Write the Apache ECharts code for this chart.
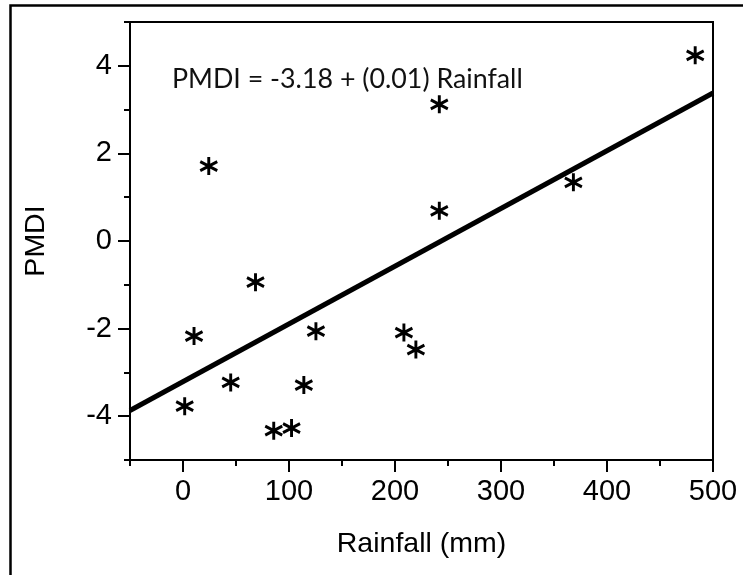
<!DOCTYPE html>
<html>
<head>
<meta charset="utf-8">
<script src="https://cdn.jsdelivr.net/npm/echarts@6/dist/echarts.min.js"></script>
<style>html,body{margin:0;padding:0;background:#fff}#c{width:743px;height:575px}</style>
</head>
<body>
<div id="c"></div>
<script>
// Data
var rainfall = [1.6, 10.4, 24.3, 45, 68.4, 85.6, 102.4, 114, 125.4, 208.4, 219.7, 241.8, 241.8, 368.3, 483.2];
var pmdi     = [-3.77, -2.17, 1.71, -3.23, -0.94, -4.33, -4.27, -3.29, -2.06, -2.09, -2.48, 0.69, 3.12, 1.34, 4.24];
var fitX = [-50, 500];
var fitY = [-3.87, 3.38];
var xMajorTicks = [0, 100, 200, 300, 400, 500];
var xMinorTicks = [-50, 50, 150, 250, 350, 450];
var yMajorTicks = [-4, -2, 0, 2, 4];
var yMinorTicks = [-5, -3, -1, 1, 3, 5];
var equationText = 'PMDI = -3.18 + (0.01) Rainfall';
var xTitle = 'Rainfall (mm)';
var yTitle = 'PMDI';

var points = rainfall.map(function (x, i) { return [x, pmdi[i]]; });
var fitLine = fitX.map(function (x, i) { return [x, fitY[i]]; });

var font = 'Liberation Sans, Arial, sans-serif';
var black = '#000';
var chart = echarts.init(document.getElementById('c'), null, {renderer: 'canvas'});

function axisBase(extra) {
  return Object.assign({
    type: 'value',
    splitLine: {show: false},
    axisLine: {show: true, onZero: false, lineStyle: {color: black, width: 2}},
    axisLabel: {color: black, fontFamily: font, fontSize: 29},
    nameTextStyle: {color: black, fontFamily: font, fontSize: 28.5}
  }, extra);
}

chart.setOption({
  animation: false,
  backgroundColor: '#fff',
  title: {
    text: equationText,
    left: 172, top: 66, padding: 0,
    textStyle: {fontFamily: 'Lato, sans-serif', fontWeight: 'normal', fontSize: 26.8, color: '#111'}
  },
  graphic: [{
    type: 'rect', left: 8, top: 3, silent: true,
    shape: {width: 760, height: 600},
    style: {fill: 'none', stroke: black, lineWidth: 2.5}
  }],
  grid: {left: 130, right: 30, top: 22, bottom: 115, show: true, borderColor: black, borderWidth: 2, backgroundColor: 'transparent'},
  xAxis: [
    axisBase({
      min: -50, max: 500,
      name: xTitle, nameLocation: 'middle', nameGap: 70,
      axisTick: {show: true, length: 12, customValues: xMajorTicks, lineStyle: {color: black, width: 2}},
      axisLabel: {color: black, fontFamily: font, fontSize: 29, margin: 17, customValues: xMajorTicks}
    }),
    axisBase({
      min: -50, max: 500, position: 'bottom',
      axisLine: {show: false, onZero: false},
      axisTick: {show: true, length: 6, customValues: xMinorTicks, lineStyle: {color: black, width: 2}},
      axisLabel: {show: false}
    })
  ],
  yAxis: [
    axisBase({
      min: -5, max: 5,
      name: yTitle, nameLocation: 'middle', nameGap: 79,
      axisTick: {show: true, length: 12, customValues: yMajorTicks, lineStyle: {color: black, width: 2}},
      axisLabel: {color: black, fontFamily: font, fontSize: 29, margin: 18, customValues: yMajorTicks}
    }),
    axisBase({
      min: -5, max: 5, position: 'left',
      axisLine: {show: false, onZero: false},
      axisTick: {show: true, length: 6, customValues: yMinorTicks, lineStyle: {color: black, width: 2}},
      axisLabel: {show: false}
    })
  ],
  series: [
    {
      type: 'line', data: fitLine, xAxisIndex: 0, yAxisIndex: 0,
      symbol: 'none', lineStyle: {color: black, width: 5}, silent: true, z: 2
    },
    {
      type: 'scatter', data: points, xAxisIndex: 0, yAxisIndex: 0,
      symbol: 'path://M0,-10L0,10M-8.66,-5L8.66,5M-8.66,5L8.66,-5',
      symbolSize: [17, 18],
      itemStyle: {color: 'none', borderColor: black, borderWidth: 3, opacity: 1},
      z: 3
    }
  ]
});
</script>
</body>
</html>
